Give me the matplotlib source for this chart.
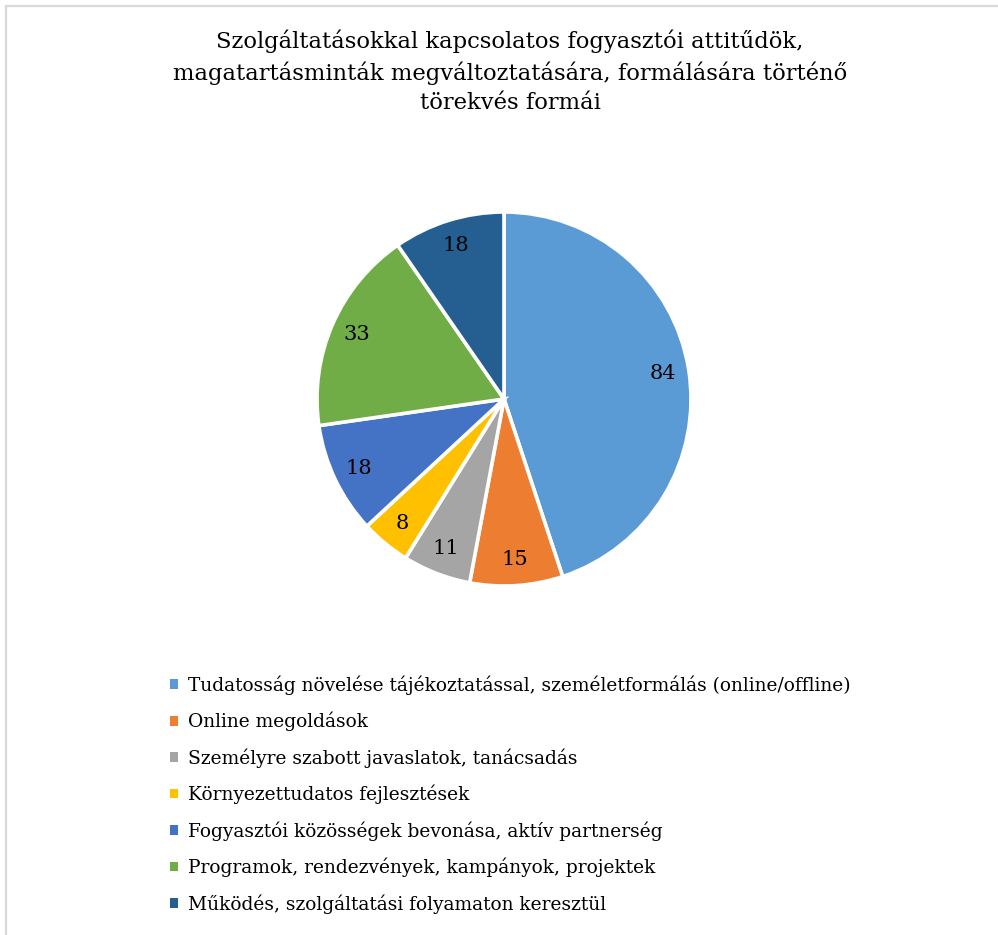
import matplotlib
matplotlib.use("Agg")
import matplotlib.pyplot as plt
from matplotlib.lines import Line2D

categories = [
    "Tudatosság növelése tájékoztatással, személetformálás (online/offline)",
    "Online megoldások",
    "Személyre szabott javaslatok, tanácsadás",
    "Környezettudatos fejlesztések",
    "Fogyasztói közösségek bevonása, aktív partnerség",
    "Programok, rendezvények, kampányok, projektek",
    "Működés, szolgáltatási folyamaton keresztül",
]
values = [84, 15, 11, 8, 18, 33, 18]
colors = ["#5B9BD5", "#ED7D31", "#A5A5A5", "#FFC000", "#4472C4", "#70AD47", "#255E91"]
title = ("Szolgáltatásokkal kapcsolatos fogyasztói attitűdök,\n"
         "magatartásminták megváltoztatására, formálására történő\n"
         "törekvés formái")

FONT = "DejaVu Serif"
W, H = 998, 935
fig = plt.figure(figsize=(W / 100, H / 100), dpi=100)
fig.patch.set_facecolor("white")

# chart-area frame (top and left edges visible)
fig.add_artist(Line2D([5.5 / W, 5.5 / W], [0, 1 - 5.5 / H], transform=fig.transFigure,
                      color="#D9D9D9", lw=1.6))
fig.add_artist(Line2D([5.5 / W, 1], [1 - 5.5 / H, 1 - 5.5 / H], transform=fig.transFigure,
                      color="#D9D9D9", lw=1.6))

fig.text(510 / W, 1 - 72 / H, title, ha="center", va="center", fontsize=16.3,
         family=FONT, linespacing=1.43, color="#000000")

# pie: centre (504, 399) px, radius 187 px
cx, cy, r = 504, 399, 187
ax = fig.add_axes([(cx - r) / W, 1 - (cy + r) / H, 2 * r / W, 2 * r / H])
wedges, texts = ax.pie(values, colors=colors, startangle=90, counterclock=False,
                       labels=[str(v) for v in values], labeldistance=0.86,
                       wedgeprops=dict(edgecolor="white", linewidth=2.6),
                       textprops=dict(fontsize=15, family=FONT, color="#000000"))
for t in texts:
    t.set_ha("center")
    t.set_va("center")
ax.set_xlim(-1, 1)
ax.set_ylim(-1, 1)
ax.set_aspect("equal")
ax.axis("off")

leg = fig.legend(wedges, categories, loc="upper left",
                 bbox_to_anchor=(163 / W, 1 - 668 / H),
                 frameon=False, prop=dict(family=FONT, size=13.4),
                 handlelength=0.42, handleheight=0.42, handletextpad=0.55,
                 labelspacing=0.91, borderaxespad=0)
for h in leg.legend_handles:
    h.set_edgecolor("none")

fig.savefig("out.png", dpi=100, facecolor="white")
